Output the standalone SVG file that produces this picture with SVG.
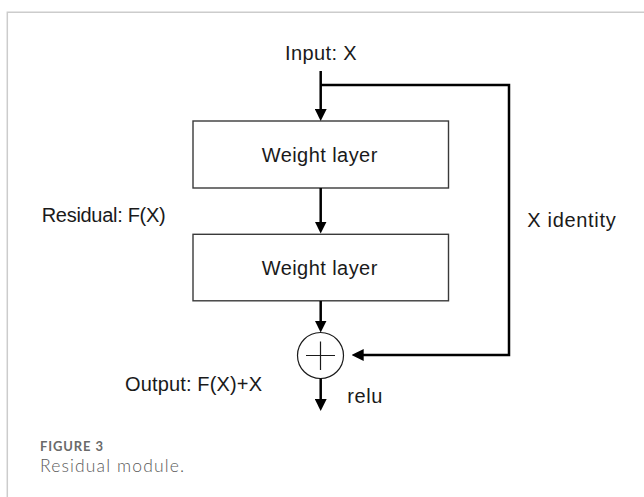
<svg xmlns="http://www.w3.org/2000/svg" width="644" height="497" viewBox="0 0 644 497">
  <defs>
    <style>
      .lbl { font-family: "Liberation Sans", Arial, sans-serif; font-size: 20px; fill: #1a1a1a; }
      .box { fill: #ffffff; stroke: #3a3a3a; stroke-width: 1.4; }
      .wire { fill: none; stroke: #000000; stroke-width: 2.5; }
      .border { fill: none; stroke: #cccccc; stroke-width: 1.5; }
      .cap1 { font-family: Lato, "Liberation Sans", sans-serif; font-size: 13px; font-weight: 700; fill: #6a6a6a; }
      .cap2 { font-family: Lato, "Liberation Sans", sans-serif; font-size: 17.5px; font-weight: 300; fill: #5a5a5a; }
    </style>
    <marker id="arrow" viewBox="0 0 12 12" refX="6" refY="6" markerWidth="12" markerHeight="12" markerUnits="userSpaceOnUse" orient="auto">
      <path d="M0,0 L12,6 L0,12 z" fill="#000000"/>
    </marker>
  </defs>
  <rect x="0" y="0" width="644" height="497" fill="#ffffff"/>
  <path class="border" d="M7.3,497 V12.3 H644"/>

  <g id="input-label">
    <text class="lbl" x="320.8" y="60" text-anchor="middle" textLength="71.7">Input: X</text>
  </g>

  <g id="weight-layer-1">
    <rect class="box" x="193" y="121" width="255.5" height="67"/>
    <text class="lbl" x="319.5" y="161.7" text-anchor="middle" textLength="115.6">Weight layer</text>
  </g>

  <g id="weight-layer-2">
    <rect class="box" x="193" y="234.3" width="255.5" height="66.5"/>
    <text class="lbl" x="319.5" y="274.5" text-anchor="middle" textLength="115.6">Weight layer</text>
  </g>

  <g id="residual-label">
    <text class="lbl" x="41.7" y="221.7" textLength="124">Residual: F(X)</text>
  </g>

  <g id="identity-label">
    <text class="lbl" x="527.3" y="226.7" textLength="88.4">X identity</text>
  </g>

  <g id="sum">
    <circle cx="320.5" cy="355.5" r="23" fill="#ffffff" stroke="#1a1a1a" stroke-width="1.2"/>
    <path d="M306,355.5 H335 M320.5,341.5 V370" stroke="#1a1a1a" stroke-width="1.2" fill="none"/>
  </g>

  <g id="output-label">
    <text class="lbl" x="125" y="391" textLength="137">Output: F(X)+X</text>
  </g>

  <g id="relu-label">
    <text class="lbl" x="347.3" y="402.7" textLength="35">relu</text>
  </g>

  <g id="connectors">
    <line class="wire" x1="320.7" y1="71" x2="320.7" y2="115" marker-end="url(#arrow)"/>
    <line class="wire" x1="320.7" y1="188" x2="320.7" y2="227.5" marker-end="url(#arrow)"/>
    <line class="wire" x1="320.7" y1="301" x2="320.7" y2="326.5" marker-end="url(#arrow)"/>
    <line class="wire" x1="320.7" y1="378.5" x2="320.7" y2="405" marker-end="url(#arrow)"/>
    <path class="wire" d="M320.7,85 H509 V355 H357.7" marker-end="url(#arrow)"/>
  </g>

  <g id="caption">
    <text class="cap1" x="40" y="451" textLength="63">FIGURE 3</text>
    <text class="cap2" x="40" y="471.5" textLength="144">Residual module.</text>
  </g>
</svg>
